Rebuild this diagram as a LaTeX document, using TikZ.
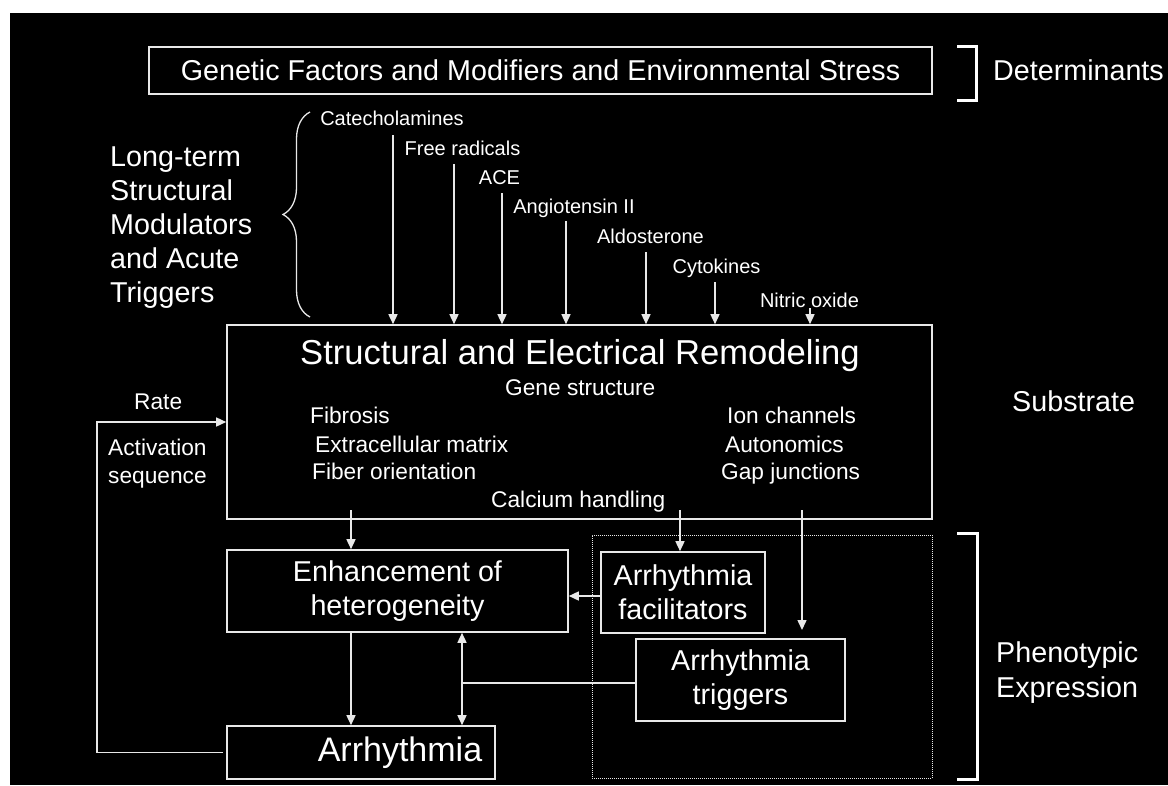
\documentclass[tikz,border=0pt]{standalone}
\usepackage{fontspec}
\setmainfont{Liberation Sans}
\usetikzlibrary{arrows.meta,calc,decorations.pathreplacing}
\definecolor{ln}{RGB}{232,232,232}
\begin{document}
\begin{tikzpicture}[x=1pt,y=-1pt,
  lbl/.style={text=white, inner sep=0pt},
  big/.style={font=\fontsize{28.7}{34}\selectfont},
  mid/.style={font=\fontsize{22.7}{28}\selectfont},
  sml/.style={font=\fontsize{20}{24}\selectfont},
  box/.style={draw=ln, line width=1.6pt, inner sep=0pt, text=white, align=center},
  dotbox/.style={draw=ln, line width=0.9pt, dash pattern=on 1pt off 1pt, inner sep=0pt},
  arr/.style={draw=ln, line width=1.5pt, -{Triangle[length=10pt,width=9pt]}},
  darr/.style={draw=ln, line width=1.5pt, {Triangle[length=10pt,width=9pt]}-{Triangle[length=10pt,width=9pt]}},
  conn/.style={draw=ln, line width=1.5pt},
  brk/.style={draw=white, line width=3pt},
  brc/.style={draw=ln, line width=1.3pt, decorate, decoration={brace, amplitude=27pt}}]
\fill[white] (0,0) rectangle (1168,785);
\fill[black] (10,13) rectangle (1168,785);
\useasboundingbox (0,0) rectangle (1168,785);

% determinants
\node[box, big, minimum width=783pt, minimum height=47pt] (gen) at (540.5,70.5) {Genetic Factors and Modifiers and Environmental Stress};
\draw[brk] (957,46) -- (976,46) -- (976,100) -- (957,100);
\node[lbl, big, anchor=base] (det) at (1078.5,80) {Determinants};

% modulators
\node[lbl, big, align=left, anchor=north west] (lt) at (110,146.5) {Long-term\\Structural\\Modulators\\and Acute\\Triggers};
\draw[brc] (310,317) -- (310,112);

% main box
\node[box, minimum width=705pt, minimum height=194pt] (main) at (579.5,422) {};
\node[lbl, font=\fontsize{34.6}{40}\selectfont, anchor=base] (title) at (580,364) {Structural and Electrical Remodeling};
\node[lbl, mid, anchor=base west] (gene) at (505,395) {Gene structure};
\node[lbl, mid, anchor=base west] (fib) at (310,423) {Fibrosis};
\node[lbl, mid, anchor=base west] (ecm) at (315,452) {Extracellular matrix};
\node[lbl, mid, anchor=base west] (fo) at (312,479) {Fiber orientation};
\node[lbl, mid, anchor=base west] (ion) at (727,423) {Ion channels};
\node[lbl, mid, anchor=base west] (auto) at (725,452) {Autonomics};
\node[lbl, mid, anchor=base west] (gap) at (721,479) {Gap junctions};
\node[lbl, mid, anchor=base west] (cal) at (491,507) {Calcium handling};

% top labels and arrows
\node[lbl, sml, anchor=base] (cat) at (392,125) {Catecholamines};
\node[lbl, sml, anchor=base] (fr) at (462.5,155) {Free radicals};
\node[lbl, sml, anchor=base] (ace) at (499.5,184) {ACE};
\node[lbl, sml, anchor=base] (ang) at (574,213) {Angiotensin II};
\node[lbl, sml, anchor=base] (ald) at (650.5,243) {Aldosterone};
\node[lbl, sml, anchor=base] (cyt) at (716.5,273) {Cytokines};
\node[lbl, sml, anchor=base] (nox) at (809.5,307) {Nitric oxide};
\path ($(cat.base)+(1,10)$) coordinate (cat0);
\path ($(fr.base)+(-8.5,9)$) coordinate (fr0);
\path ($(ace.base)+(2.5,9)$) coordinate (ace0);
\path ($(ang.base)+(-8,8)$) coordinate (ang0);
\path ($(ald.base)+(-4.5,9)$) coordinate (ald0);
\path ($(cyt.base)+(-1.5,9)$) coordinate (cyt0);
\path ($(nox.base)+(0.5,1)$) coordinate (nox0);
\foreach \c in {cat0,fr0,ace0,ang0,ald0,cyt0,nox0}
  \draw[arr] (\c) -- (\c |- main.north);

% left feedback
\node[lbl, mid, anchor=base west] (rate) at (134,409) {Rate};
\node[lbl, mid, align=left, anchor=north west] (act) at (108,438.7) {Activation\\sequence};

% lower boxes
\node[box, big, minimum width=341pt, minimum height=82pt] (enh) at (397.5,591) {Enhancement of\\heterogeneity};
\node[box, font=\fontsize{34}{40}\selectfont, minimum width=268pt, minimum height=53pt] (arr) at (361,752.5) {\hspace*{78pt}Arrhythmia};
\node[dotbox, minimum width=340pt, minimum height=243pt] (phen) at (762,656.5) {};
\node[box, big, minimum width=164pt, minimum height=81pt] (fac) at (683,592.5) {Arrhythmia\\facilitators};
\node[box, big, minimum width=209pt, minimum height=82pt] (trig) at (740.5,680) {Arrhythmia\\triggers};

\coordinate (fb) at (97,752.5);
\draw[arr] ([xshift=-3pt]arr.west) -- (fb) |- (main.west);

\coordinate (m1) at (351,510);
\draw[arr] (m1) -- (m1 |- enh.north);
\draw[arr] (m1 |- enh.south) -- (m1 |- arr.north);
\coordinate (d1) at (462,683);
\draw[darr] (d1 |- enh.south) -- (d1 |- arr.north);
\draw[conn] (d1 -| trig.west) -- (d1);
\draw[arr] ([yshift=-3.5pt]fac.west) -- ([yshift=-3.5pt]fac.west -| enh.east);
\coordinate (c1) at (680,510);
\draw[arr] (c1) -- (c1 |- fac.north);
\coordinate (g1) at (802,510);
\coordinate (g2) at (802,630);
\draw[arr] (g1) -- (g2);

% right side
\node[lbl, big, anchor=base west] (sub) at (1012,411) {Substrate};
\draw[brk] (957,533) -- (977,533) -- (977,779) -- (957,779);
\node[lbl, font=\fontsize{28.7}{35}\selectfont, align=left, anchor=north west] (phe) at (996,641.5) {Phenotypic\\Expression};
\end{tikzpicture}
\end{document}
